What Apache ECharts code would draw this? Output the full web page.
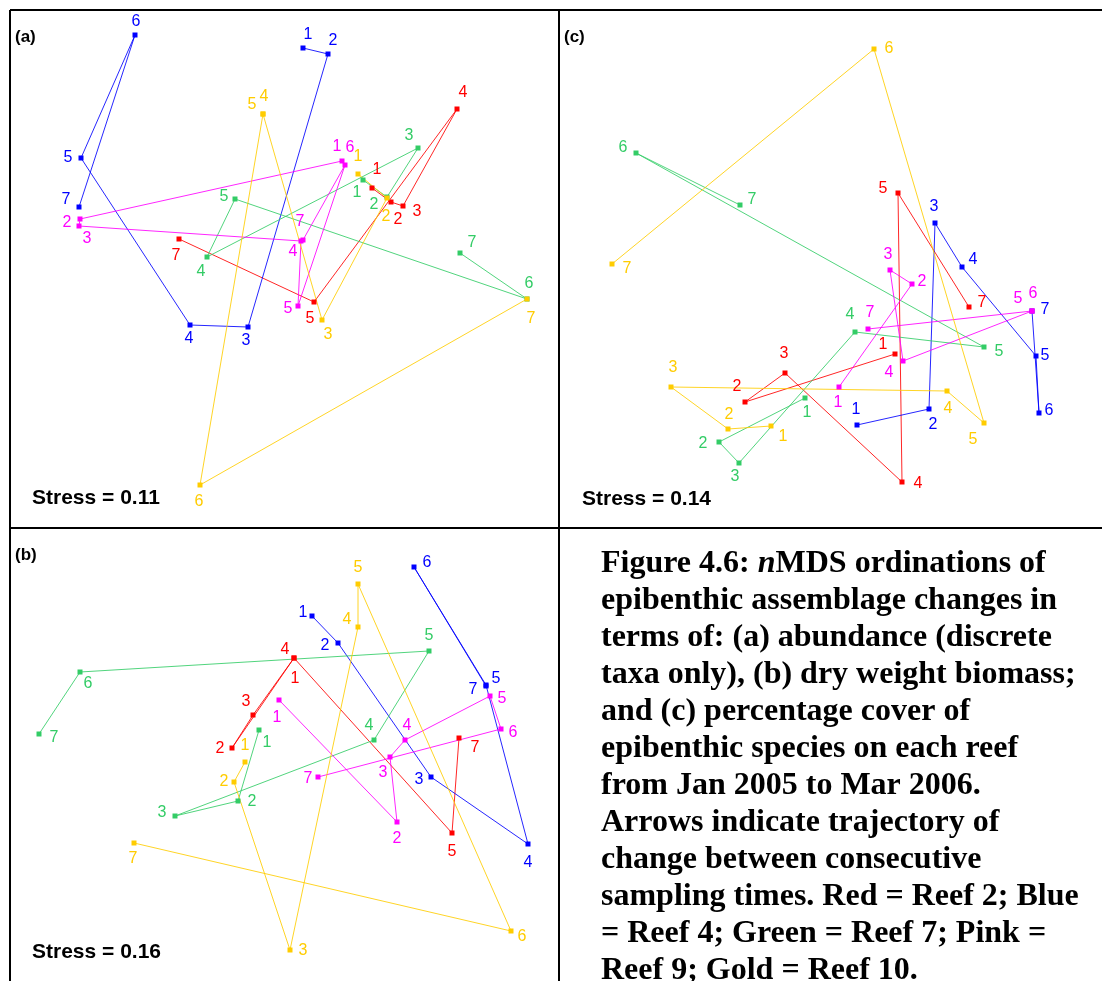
<!DOCTYPE html>
<html>
<head>
<meta charset="utf-8">
<script src="https://cdn.jsdelivr.net/npm/echarts@6/dist/echarts.min.js"></script>
<style>
  html, body { margin: 0; padding: 0; background: #fff; }
  #chart { width: 1102px; height: 981px; }
</style>
</head>
<body>
<div id="chart"></div>
<script>
// sampling times (Reef 2 was not sampled at time 6)
var timesAll = ['1', '2', '3', '4', '5', '6', '7'];
var timesReef2 = ['1', '2', '3', '4', '5', '7'];
var reefs = ['Reef 2', 'Reef 4', 'Reef 7', 'Reef 9', 'Reef 10'];

// ordination positions, one list per reef and panel
// (a) abundance
var aReef2 = [[372, 188], [391, 202], [403, 206], [457, 109], [314, 302], [179, 239]];
var aReef4 = [[303, 48], [328, 54], [248, 327], [190, 325], [81, 158], [135, 35], [79, 207]];
var aReef7 = [[363, 180], [387, 197], [418, 148], [207, 257], [235, 199], [527, 299], [460, 253]];
var aReef9 = [[342, 161], [80, 219], [79, 226], [301, 241], [298, 306], [345, 165], [303, 240]];
var aReef10 = [[358, 174], [387, 198], [322, 320], [263, 114], [263, 114], [200, 485], [527, 299]];
// (b) dry weight biomass
var bReef2 = [[294, 658], [232, 748], [253, 715], [294, 658], [452, 833], [459, 738]];
var bReef4 = [[312, 616], [338, 643], [431, 777], [528, 844], [486, 685], [414, 567], [486, 686]];
var bReef7 = [[259, 730], [238, 801], [175, 816], [374, 740], [429, 651], [80, 672], [39, 734]];
var bReef9 = [[279, 700], [397, 822], [390, 757], [405, 740], [490, 696], [501, 729], [318, 777]];
var bReef10 = [[245, 762], [234, 782], [290, 950], [358, 627], [358, 584], [511, 931], [134, 843]];
// (c) percentage cover
var cReef2 = [[895, 354], [745, 402], [785, 373], [902, 482], [898, 193], [969, 307]];
var cReef4 = [[857, 425], [929, 409], [935, 223], [962, 267], [1036, 356], [1039, 413], [1032, 311]];
var cReef7 = [[805, 398], [719, 442], [739, 463], [855, 332], [984, 347], [636, 153], [740, 205]];
var cReef9 = [[839, 387], [912, 284], [890, 270], [903, 361], [1032, 311], [1032, 311], [868, 329]];
var cReef10 = [[771, 426], [728, 429], [671, 387], [947, 391], [984, 423], [874, 49], [612, 264]];

var stressValues = ['0.11', '0.16', '0.14'];

// ---- styling ----
var reefColors = ['#ff0000', '#0000ff', '#33cc66', '#ff00ff', '#ffcc00'];

// where each time label sits relative to its point
var labelNudge = {
    a: [
        [[5, -18], [7, 18], [14, 6], [6, -16], [-4, 17], [-3, 17]],
        [[5, -13], [5, -13], [-2, 14], [-1, 14], [-13, 0], [1, -13], [-13, -7]],
        [[-6, 13], [-13, 8], [-9, -12], [-6, 15], [-11, -2], [2, -15], [12, -10]],
        [[-5, -14], [-13, 4], [8, 13], [-8, 11], [-10, 3], [5, -17], [-3, -18]],
        [[0, -17], [-1, 19], [6, 15], [1, -17], [-11, -9], [-1, 17], [4, 20]]
    ],
    b: [
        [[1, 21], [-12, 1], [-7, -13], [-9, -8], [0, 19], [16, 10]],
        [[-9, -3], [-13, 3], [-12, 3], [0, 19], [10, -6], [13, -4], [-13, 4]],
        [[8, 13], [14, 1], [-13, -3], [-5, -14], [0, -15], [8, 12], [15, 4]],
        [[-2, 18], [0, 17], [-7, 16], [2, -14], [12, 3], [12, 4], [-10, 2]],
        [[0, -16], [-10, 0], [13, 1], [-11, -7], [0, -16], [11, 6], [-1, 16]]
    ],
    c: [
        [[-12, -9], [-8, -15], [-1, -19], [16, 2], [-15, -4], [13, -4]],
        [[-1, -15], [4, 16], [-1, -16], [11, -7], [9, 0], [10, -2], [13, -1]],
        [[2, 15], [-16, 2], [-4, 14], [-5, -17], [15, 5], [-13, -5], [12, -5]],
        [[-1, 16], [10, -2], [-2, -15], [-14, 12], [-14, -12], [1, -17], [2, -16]],
        [[12, 11], [1, -14], [2, -19], [1, 18], [-11, 17], [15, 0], [15, 5]]
    ]
};

// panel frames on the page: left, top, width, height
var panels = [
    { key: 'a', tag: '(a)', data: [aReef2, aReef4, aReef7, aReef9, aReef10], box: [10, 10, 549, 518] },
    { key: 'b', tag: '(b)', data: [bReef2, bReef4, bReef7, bReef9, bReef10], box: [10, 528, 549, 453] },
    { key: 'c', tag: '(c)', data: [cReef2, cReef4, cReef7, cReef9, cReef10], box: [559, 10, 543, 518] }
];

var chart = echarts.init(document.getElementById('chart'));

var grids = [], xAxes = [], yAxes = [], series = [], graphics = [];

panels.forEach(function (p, pi) {
    var b = p.box;
    grids.push({ left: b[0], top: b[1], width: b[2], height: b[3], show: false });
    xAxes.push({
        gridIndex: pi, type: 'value', min: b[0], max: b[0] + b[2], show: false,
        splitLine: { show: false }
    });
    yAxes.push({
        gridIndex: pi, type: 'value', min: b[1], max: b[1] + b[3], inverse: true, show: false,
        splitLine: { show: false }
    });

    p.data.forEach(function (pts, ri) {
        var times = ri === 0 ? timesReef2 : timesAll;
        var color = reefColors[ri];
        series.push({
            name: reefs[ri],
            type: 'line',
            xAxisIndex: pi,
            yAxisIndex: pi,
            symbol: 'rect',
            symbolSize: 5,
            showAllSymbol: true,
            clip: false,
            animation: false,
            itemStyle: { color: color },
            lineStyle: { color: color, width: 1, opacity: 0.85 },
            label: {
                show: true,
                position: 'inside',
                color: color,
                fontSize: 16,
                fontFamily: 'Liberation Sans, Arial, sans-serif',
                formatter: function (d) { return d.name; }
            },
            data: pts.map(function (pt, i) {
                return {
                    name: times[i],
                    value: pt,
                    label: { offset: labelNudge[p.key][ri][i] }
                };
            })
        });
    });

    graphics.push({
        type: 'text',
        left: b[0] + 5,
        top: b[1] + 19,
        style: {
            text: p.tag,
            fill: '#000',
            font: 'bold 17px "Liberation Sans", Arial, sans-serif'
        }
    });
});

// frame lines
[[10, 10, 1102, 10], [10, 10, 10, 981], [559, 10, 559, 981], [10, 528, 1102, 528]].forEach(function (l) {
    graphics.push({
        type: 'line',
        shape: { x1: l[0], y1: l[1], x2: l[2], y2: l[3] },
        style: { stroke: '#000', lineWidth: 2 },
        z: 100
    });
});

// stress values
[[32, 488], [32, 942], [582, 489]].forEach(function (pos, i) {
    graphics.push({
        type: 'text',
        left: pos[0],
        top: pos[1],
        style: {
            text: 'Stress = ' + stressValues[i],
            fill: '#000',
            font: 'bold 21px "Liberation Sans", Arial, sans-serif'
        }
    });
});

var captionLines = [
    'Figure 4.6: {i|n}MDS ordinations of',
    'epibenthic assemblage changes in',
    'terms of: (a) abundance (discrete',
    'taxa only), (b) dry weight biomass;',
    'and (c) percentage cover of',
    'epibenthic species on each reef',
    'from Jan 2005 to Mar 2006.',
    'Arrows indicate trajectory of',
    'change between consecutive',
    'sampling times. Red = Reef 2; Blue',
    '= Reef 4; Green = Reef 7; Pink =',
    'Reef 9; Gold = Reef 10.'
];

graphics.push({
    type: 'text',
    left: 601,
    top: 545,
    z: 100,
    style: {
        text: captionLines.join('\n'),
        fill: '#000',
        fontFamily: '"Liberation Serif", "Times New Roman", serif',
        fontWeight: 'bold',
        fontSize: 32,
        lineHeight: 37,
        rich: {
            i: {
                fontFamily: '"Liberation Serif", "Times New Roman", serif',
                fontWeight: 'bold',
                fontStyle: 'italic',
                fontSize: 32,
                lineHeight: 37
            }
        }
    }
});

chart.setOption({
    backgroundColor: '#fff',
    animation: false,
    grid: grids,
    xAxis: xAxes,
    yAxis: yAxes,
    series: series,
    graphic: graphics
});
</script>
</body>
</html>
